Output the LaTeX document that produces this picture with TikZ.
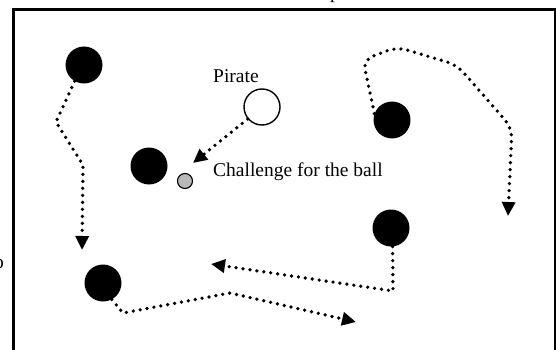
\documentclass[tikz,border=0pt]{standalone}
\usepackage{fontspec}
\setmainfont{Liberation Serif}
\usetikzlibrary{arrows.meta}
\begin{document}
\begin{tikzpicture}[x=1pt,y=-1pt,
  player/.style={circle,fill=black,minimum size=37pt,inner sep=0pt},
  pirate/.style={circle,draw=black,line width=1.4pt,fill=white,minimum size=36pt,inner sep=0pt},
  ball/.style={circle,draw=black,line width=1.1pt,fill=black!28,minimum size=15pt,inner sep=0pt},
  run/.style={line width=3.7pt,line cap=round,dash pattern=on 0pt off 7pt,
    -{Triangle[length=14pt,width=13pt]}},
  lbl/.style={font=\fontsize{19.5}{22}\selectfont,inner sep=0pt,anchor=base west}]
\useasboundingbox (0,0) rectangle (556,350);
\clip (0,0) rectangle (556,350);
\draw[line width=3pt] (13,10) rectangle (555,370);
\node[lbl,anchor=base] (tp) at (335,-1) {p};
\node[lbl,anchor=base] (lo) at (-1,268) {o};
\node[player] (c1) at (84,65) {};
\node[player] (c2) at (149,166) {};
\node[ball] (b) at (185,181) {};
\node[pirate] (p) at (262,107) {};
\node[player] (c3) at (392,120) {};
\node[player] (c4) at (391,228) {};
\node[player] (c5) at (103,283) {};
\node[lbl] (pl) at (213,83) {Pirate};
\node[lbl] (cl) at (213,176) {Challenge for the ball};
\coordinate (t1) at (82,250);
\coordinate (t2) at (193,163);
\coordinate (t3) at (508,216);
\coordinate (t4) at (211,264);
\coordinate (t5) at (356,322);
\draw[run] (c1.240) -- (56,122) -- (83,165) -- (t1);
\draw[run] (p.220) -- (t2);
\draw[run,rounded corners=10pt] (c3.160) -- (363,60) -- (397,47) -- (457,65) -- (512,128) -- (t3);
\draw[run] (c4.-85) -- (393,291) -- (t4);
\draw[run] (c5.-62) -- (123,313) -- (230,293) -- (t5);
\end{tikzpicture}
\end{document}
